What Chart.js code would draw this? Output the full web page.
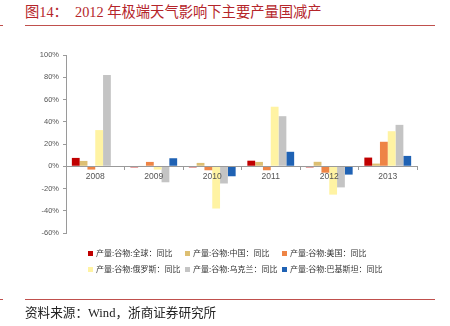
<!DOCTYPE html>
<html><head><meta charset="utf-8">
<script src="https://cdn.jsdelivr.net/npm/chart.js@4.4.1/dist/chart.umd.min.js"></script>
<style>
html,body{margin:0;padding:0;background:#fff;width:450px;height:326px;overflow:hidden;}
#wrap{position:absolute;left:0;top:0;width:450px;height:326px;}
#title{position:absolute;left:25px;top:3px;font-family:"Liberation Serif","Noto Sans CJK SC",serif;font-size:14.3px;color:#B5252A;white-space:pre;line-height:18px;}
.rl{position:absolute;height:1px;background:#C0504D;}
#src{position:absolute;left:25px;top:304px;font-family:"Liberation Serif","Noto Sans CJK SC",serif;font-size:12.6px;color:#222;white-space:pre;line-height:18px;}
#legend{position:absolute;left:88px;top:247px;width:340px;display:grid;grid-template-columns:97px 97px 150px;row-gap:4px;font-family:"Noto Sans CJK SC",sans-serif;font-size:8px;color:#333;line-height:12px;}
.li{display:flex;align-items:center;white-space:nowrap;}
.sw{width:5px;height:5px;margin-right:3px;flex:none;}
#cv{position:absolute;left:0;top:0;}
</style></head><body>
<div id="wrap">
<div id="title">图14：  2012 年极端天气影响下主要产量国减产</div>
<div class="rl" style="left:25px;top:25px;width:410px;"></div>
<div class="rl" style="left:0px;top:25px;width:3px;"></div>
<canvas id="cv" width="450" height="326"></canvas>
<div id="legend"></div>
<div class="rl" style="left:25px;top:299px;width:410px;"></div>
<div class="rl" style="left:0px;top:299px;width:3px;"></div>
<div id="src">资料来源：Wind，浙商证券研究所</div>
</div>
<script>
const years = ["2008","2009","2010","2011","2012","2013"];
const seriesNames = ["产量:谷物:全球：同比","产量:谷物:中国：同比","产量:谷物:美国：同比","产量:谷物:俄罗斯：同比","产量:谷物:乌克兰：同比","产量:谷物:巴基斯坦：同比"];
const globalYoY   = [7.5, -1.0, -1.0, 5.0, -1.0, 7.8];
const chinaYoY    = [4.8, 0.5, 3.0, 3.9, 4.0, 2.4];
const usaYoY      = [-3.0, 3.9, -3.6, -3.6, -5.8, 22.0];
const russiaYoY   = [32.5, -3.0, -38.0, 53.5, -25.5, 31.5];
const ukraineYoY  = [82.0, -14.4, -15.5, 45.0, -19.0, 37.2];
const pakistanYoY = [-0.5, 7.2, -9.0, 13.0, -7.5, 9.3];
const yTicks = [100, 80, 60, 40, 20, 0, -20, -40, -60];
const colors = ["#C00000","#DDBF72","#EE8445","#FFF3A3","#C4C4C4","#1F62B4"];
const values = [globalYoY, chinaYoY, usaYoY, russiaYoY, ukraineYoY, pakistanYoY];

const lg = document.getElementById('legend');
seriesNames.forEach((n,i)=>{
  const d=document.createElement('div');d.className='li';
  d.innerHTML='<span class="sw" style="background:'+colors[i]+'"></span><span>'+n+'</span>';
  lg.appendChild(d);
});

new Chart(document.getElementById('cv'), {
  type:'bar',
  data:{
    labels: years,
    datasets: values.map((v,i)=>({label:seriesNames[i],data:v,backgroundColor:colors[i],borderWidth:0,categoryPercentage:0.8,barPercentage:1.0}))
  },
  options:{
    responsive:false,animation:false,
    layout:{padding:{left:0,right:33,top:55,bottom:93}},
    plugins:{legend:{display:false},tooltip:{enabled:false}},
    scales:{
      x:{
        position:{y:0},
        grid:{display:true,drawOnChartArea:false,drawTicks:true,tickLength:3,color:'#9a9a9a',offset:true,z:1},
        border:{display:true,color:'#9a9a9a',width:1,z:1},
        ticks:{font:{family:'Liberation Sans, Arial',size:8.5},color:'#555',padding:2,z:2}
      },
      y:{
        min:-60,max:100,
        afterFit:(s)=>{s.width=66;},
        afterBuildTicks:(s)=>{s.ticks=yTicks.map(v=>({value:v}));},
        grid:{display:true,drawOnChartArea:false,drawTicks:true,tickLength:3,color:'#9a9a9a'},
        border:{display:true,color:'#9a9a9a',width:1},
        ticks:{font:{family:'Liberation Sans, Arial',size:7.5},color:'#555',padding:4,callback:(v)=>v+'%'}
      }
    }
  }
});
</script>
</body></html>
